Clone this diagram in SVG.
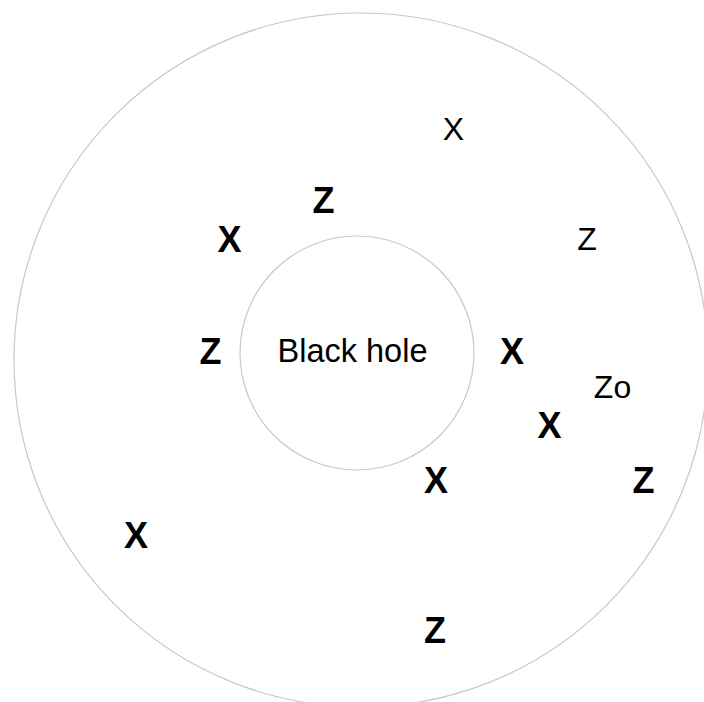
<svg xmlns="http://www.w3.org/2000/svg" width="704" height="702" viewBox="0 0 704 702">
<style>
.ring{fill:none;stroke:#c8c8c8;stroke-width:1.2}
text{font-family:"Liberation Sans",Arial,sans-serif;fill:#000;text-anchor:middle}
.b{font-weight:bold;font-size:36px}
.r{font-size:32px}
.lbl{font-size:32.5px}
</style>
<rect width="704" height="702" fill="#fff"/>
<g id="outer"><circle class="ring" cx="361" cy="360" r="347"/></g>
<g id="blackhole"><circle class="ring" cx="357" cy="353" r="117"/><text class="lbl" x="352.5" y="362">Black hole</text></g>
<g id="marks">
<text class="r" x="453.5" y="140">X</text>
<text class="r" x="587" y="249.5">Z</text>
<text class="r" x="612.5" y="398">Zo</text>
<text class="b" x="323.5" y="213">Z</text>
<text class="b" x="229.5" y="252">X</text>
<text class="b" x="210.5" y="363.5">Z</text>
<text class="b" x="512" y="363.5">X</text>
<text class="b" x="549.5" y="438">X</text>
<text class="b" x="643.5" y="493">Z</text>
<text class="b" x="436" y="493">X</text>
<text class="b" x="136" y="548">X</text>
<text class="b" x="435" y="643">Z</text>
</g>
</svg>
